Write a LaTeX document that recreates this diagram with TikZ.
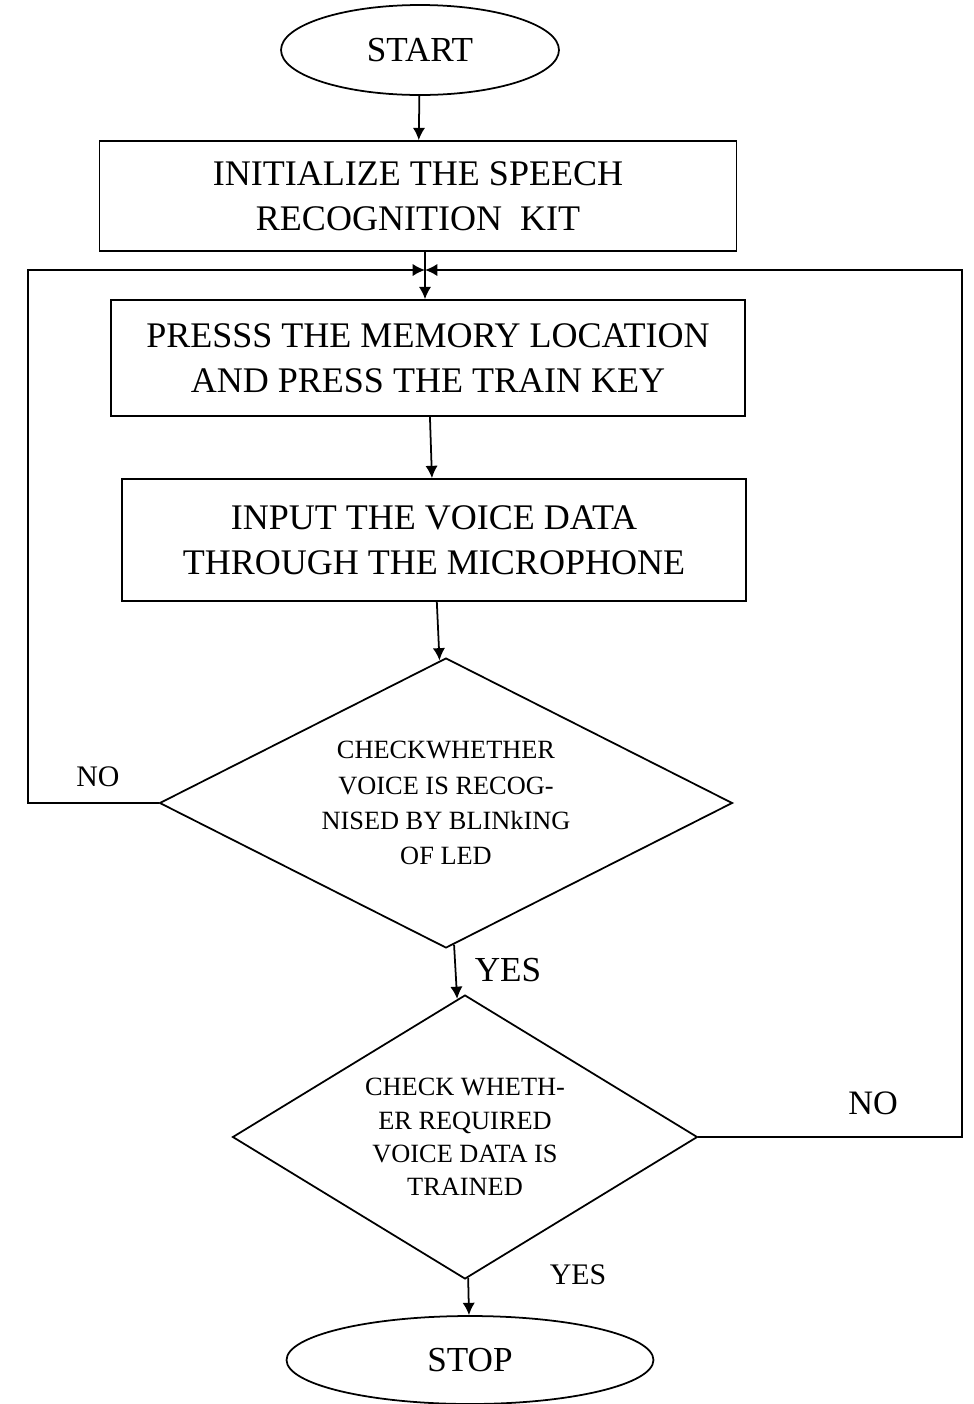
\documentclass[tikz,border=0pt]{standalone}
\usepackage{fontspec}
\setmainfont{Liberation Serif}
\usetikzlibrary{arrows.meta, shapes.geometric}

\begin{document}
\begin{tikzpicture}[x=0.02cm, y=-0.02cm, line width=1pt,
    >={Latex[length=7pt,width=7pt]},
    term/.style = {draw, ellipse, inner sep=0pt, font=\fontsize{20}{24}\selectfont},
    proc/.style = {draw, rectangle, align=center, inner sep=0pt, font=\fontsize{20.5}{25.5}\selectfont},
    cond/.style = {draw, diamond, align=center, inner sep=0pt, font=\fontsize{15}{20}\selectfont},
    lbl/.style = {inner sep=0pt}]
    \useasboundingbox (0,0) rectangle (974,1404);

            \node[term, minimum width=5.56cm, minimum height=1.8cm] (start) at (420,50) {START};
            \node[proc, minimum width=12.74cm, minimum height=2.2cm] (init) at (418,196) {INITIALIZE THE SPEECH\\RECOGNITION\ \ KIT};
            \coordinate (m) at (425,270);
            \node[proc, minimum width=12.68cm, minimum height=2.32cm] (press) at (428,358) {PRESSS THE MEMORY LOCATION\\AND PRESS THE TRAIN KEY};
            \node[proc, minimum width=12.48cm, minimum height=2.44cm] (input) at (434,540) {INPUT THE VOICE DATA\\THROUGH THE MICROPHONE};
            \node[cond, aspect=2, minimum width=11.46cm, minimum height=5.8cm] (chk1) at (446,803) {CHECKWHETHER\\VOICE IS RECOG-\\NISED BY BLINkING\\OF LED};
            \node[cond, aspect=1.6, minimum width=9.3cm, minimum height=5.68cm, font=\fontsize{15}{19}\selectfont] (chk2) at (465,1137) {CHECK WHETH-\\ER REQUIRED\\VOICE DATA IS\\TRAINED};
            \node[term, minimum width=7.34cm, minimum height=1.76cm] (stop) at (470,1360) {STOP};

            \coordinate (lc) at (28,270);
            \coordinate (rc) at (962,270);

            \path[->] (start) edge (init);
            \draw (m |- init.south) -- (m);
            \path[->] (m) edge (m |- press.north);
            \path[->] (press) edge (input);
            \path[->] (input) edge (chk1);
            \path[->] (chk1) edge (chk2);
            \path[->] (chk2) edge (stop);

            \draw[->] (chk1.west) -| (lc) -- (m);
            \draw[->] (chk2.east) -| (rc) -- (m);

            \node[lbl, font=\fontsize{17}{20}\selectfont] (no1) at (98,777) {NO};
            \node[lbl, font=\fontsize{19.5}{22}\selectfont] (no2) at (873,1103) {NO};
            \node[lbl, font=\fontsize{20}{24}\selectfont] (yes1) at (508,970) {YES};
            \node[lbl, font=\fontsize{17}{20}\selectfont] (yes2) at (578,1275) {YES};
        \end{tikzpicture}
\end{document}
